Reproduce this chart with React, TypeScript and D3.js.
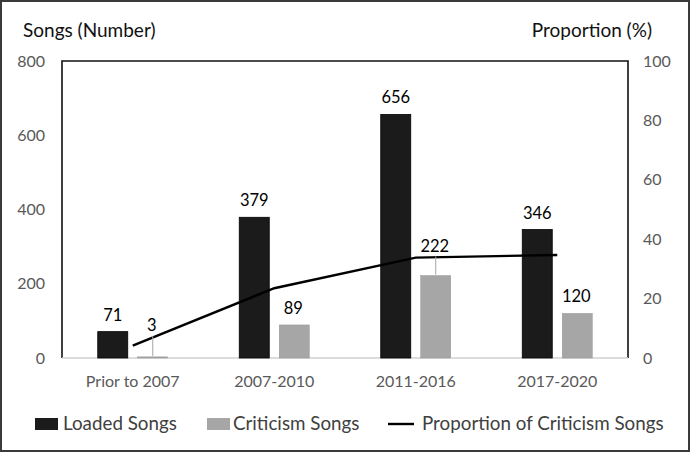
import { useEffect, useRef } from 'react'
import * as d3 from 'd3'

const categories = ['Prior to 2007', '2007-2010', '2011-2016', '2017-2020']
const loadedSongs = [71, 379, 656, 346]
const criticismSongs = [3, 89, 222, 120]
const proportion = [4.2, 23.5, 33.8, 34.7]
const leftTicks = [0, 200, 400, 600, 800]
const rightTicks = [0, 20, 40, 60, 80, 100]

const FONT = 'Lato, "Open Sans", sans-serif'

const App = () => {
	const svgRef = useRef<SVGSVGElement>(null)

	useEffect(() => {
		const width = 690
		const height = 452
		const plot = { left: 62, right: 628, top: 61, bottom: 358 }

		const svg = d3.select(svgRef.current)
		svg.selectAll('*').remove()
		svg.attr('width', width).attr('height', height)

		svg
			.append('rect')
			.attr('x', 1)
			.attr('y', 1)
			.attr('width', width - 2)
			.attr('height', height - 2)
			.attr('fill', 'white')
			.attr('stroke', '#3a3a3a')
			.attr('stroke-width', 2)

		// Scales
		const x = d3.scaleBand().domain(categories).range([plot.left, plot.right]).padding(0)
		const series = d3
			.scaleBand()
			.domain(['loaded', 'criticism'])
			.range([0, x.bandwidth()])
			.paddingInner(0.25)
			.paddingOuter(0.894)
		const yLeft = d3.scaleLinear().domain([0, 800]).range([plot.bottom, plot.top])
		const yRight = d3.scaleLinear().domain([0, 100]).range([plot.bottom, plot.top])

		// Frame: left, top, right black; bottom gray
		svg
			.append('path')
			.attr('d', `M${plot.left},${plot.bottom}V${plot.top}H${plot.right}V${plot.bottom}`)
			.attr('fill', 'none')
			.attr('stroke', '#111')
			.attr('stroke-width', 1.6)
		svg
			.append('line')
			.attr('x1', plot.left)
			.attr('x2', plot.right)
			.attr('y1', plot.bottom)
			.attr('y2', plot.bottom)
			.attr('stroke', '#d0d0d0')
			.attr('stroke-width', 1.3)

		// Tick labels
		svg
			.append('g')
			.selectAll('text')
			.data(leftTicks)
			.join('text')
			.attr('x', 45)
			.attr('y', (d) => yLeft(d))
			.attr('dy', '0.35em')
			.attr('text-anchor', 'end')
			.attr('font-family', FONT)
			.attr('font-size', 16)
			.attr('fill', '#595959')
			.text((d) => d)

		svg
			.append('g')
			.selectAll('text')
			.data(rightTicks)
			.join('text')
			.attr('x', 643)
			.attr('y', (d) => yRight(d))
			.attr('dy', '0.35em')
			.attr('text-anchor', 'start')
			.attr('font-family', FONT)
			.attr('font-size', 16)
			.attr('fill', '#595959')
			.text((d) => d)

		svg
			.append('g')
			.selectAll('text')
			.data(categories)
			.join('text')
			.attr('x', (d) => x(d)! + x.bandwidth() / 2)
			.attr('y', 387)
			.attr('text-anchor', 'middle')
			.attr('font-family', FONT)
			.attr('font-size', 16)
			.attr('fill', '#595959')
			.text((d) => d)

		// Axis titles
		svg
			.append('text')
			.attr('x', 23)
			.attr('y', 37)
			.attr('font-family', FONT)
			.attr('font-size', 19)
			.attr('fill', '#111')
			.text('Songs (Number)')
		svg
			.append('text')
			.attr('x', 652)
			.attr('y', 37)
			.attr('text-anchor', 'end')
			.attr('font-family', FONT)
			.attr('font-size', 19)
			.attr('fill', '#111')
			.text('Proportion (%)')

		// Bars
		const bars = svg.append('g')
		bars
			.selectAll('rect.loaded')
			.data(categories)
			.join('rect')
			.attr('class', 'loaded')
			.attr('x', (d) => x(d)! + series('loaded')!)
			.attr('y', (_, i) => yLeft(loadedSongs[i]))
			.attr('width', series.bandwidth())
			.attr('height', (_, i) => plot.bottom - yLeft(loadedSongs[i]))
			.attr('fill', '#1b1b1b')
			.attr('stroke', '#000')
			.attr('stroke-width', 0.8)

		bars
			.selectAll('rect.criticism')
			.data(categories)
			.join('rect')
			.attr('class', 'criticism')
			.attr('x', (d) => x(d)! + series('criticism')!)
			.attr('y', (_, i) => yLeft(criticismSongs[i]))
			.attr('width', series.bandwidth())
			.attr('height', (_, i) => plot.bottom - yLeft(criticismSongs[i]))
			.attr('fill', '#a6a6a6')
			.attr('stroke', '#939393')
			.attr('stroke-width', 0.5)

		// Proportion line
		const line = d3
			.line<number>()
			.x((_, i) => x(categories[i])! + x.bandwidth() / 2)
			.y((d) => yRight(d))
		svg
			.append('path')
			.datum(proportion)
			.attr('d', line)
			.attr('fill', 'none')
			.attr('stroke', '#000')
			.attr('stroke-width', 2.4)

		// Value labels
		const labels = svg.append('g').attr('font-family', FONT).attr('font-size', 16.5).attr('fill', '#000')
		labels
			.selectAll('text.loaded')
			.data(categories)
			.join('text')
			.attr('class', 'loaded')
			.attr('x', (d) => x(d)! + series('loaded')! + series.bandwidth() / 2)
			.attr('y', (_, i) => yLeft(loadedSongs[i]) - 11)
			.attr('text-anchor', 'middle')
			.text((_, i) => loadedSongs[i])

		// extra lift (with leader line) for labels that would collide with the line
		const lift: Record<number, number> = { 0: 15, 2: 13 }
		labels
			.selectAll('text.criticism')
			.data(categories)
			.join('text')
			.attr('class', 'criticism')
			.attr('x', (d) => x(d)! + series('criticism')! + series.bandwidth() / 2 - 1)
			.attr('y', (_, i) => yLeft(criticismSongs[i]) - 11 - (lift[i] || 0))
			.attr('text-anchor', 'middle')
			.text((_, i) => criticismSongs[i])

		svg
			.append('g')
			.selectAll('line')
			.data(Object.keys(lift).map(Number))
			.join('line')
			.attr('x1', (i) => x(categories[i])! + series('criticism')! + series.bandwidth() / 2)
			.attr('x2', (i) => x(categories[i])! + series('criticism')! + series.bandwidth() / 2)
			.attr('y1', (i) => yLeft(criticismSongs[i]) - lift[i] - 6)
			.attr('y2', (i) => yLeft(criticismSongs[i]) - 1)
			.attr('stroke', '#a6a6a6')
			.attr('stroke-width', 1)

		// Legend
		const legend = svg.append('g').attr('font-family', FONT).attr('font-size', 18.8).attr('fill', '#404040')
		legend.append('rect').attr('x', 35).attr('y', 418).attr('width', 23).attr('height', 12).attr('fill', '#1b1b1b')
		legend.append('text').attr('x', 63).attr('y', 430).text('Loaded Songs')
		legend.append('rect').attr('x', 207).attr('y', 418).attr('width', 23).attr('height', 12).attr('fill', '#a6a6a6')
		legend.append('text').attr('x', 233).attr('y', 430).text('Criticism Songs')
		legend
			.append('line')
			.attr('x1', 388)
			.attr('x2', 414)
			.attr('y1', 424)
			.attr('y2', 424)
			.attr('stroke', '#000')
			.attr('stroke-width', 2.4)
		legend.append('text').attr('x', 422).attr('y', 430).text('Proportion of Criticism Songs')
	}, [])

	return <svg ref={svgRef} style={{ position: 'absolute', left: 0, top: 0 }}></svg>
}

export default App
